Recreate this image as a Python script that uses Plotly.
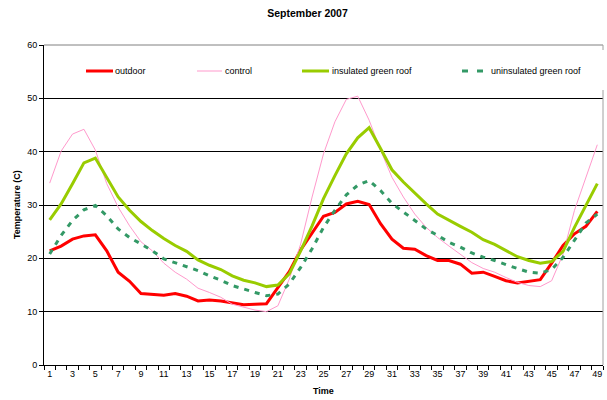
import plotly.graph_objects as go

time = list(range(1, 50))
outdoor = [21.4, 22.3, 23.6, 24.2, 24.4, 21.4, 17.4, 15.7, 13.4, 13.2, 13.1, 13.4, 12.9, 12.0, 12.2, 12.0, 11.6,
           11.3, 11.4, 11.5, 14.5, 17.5, 21.6, 24.8, 27.9, 28.6, 30.2, 30.7, 30.1, 26.5, 23.6, 21.9, 21.7, 20.5,
           19.6, 19.6, 18.9, 17.2, 17.4, 16.6, 15.8, 15.4, 15.7, 16.0, 19.1, 22.4, 24.6, 26.0, 28.8]
control = [34.1, 40.1, 43.3, 44.2, 40.3, 34.0, 29.6, 26.1, 23.1, 21.4, 19.1, 17.4, 16.1, 14.4, 13.6, 12.7, 11.4,
           10.8, 10.3, 10.0, 11.1, 16.1, 22.7, 31.5, 39.6, 45.6, 49.8, 50.4, 45.9, 40.3, 35.2, 31.5, 28.3, 25.8,
           23.9, 22.3, 20.8, 19.2, 18.1, 17.4, 16.4, 15.5, 14.9, 14.7, 15.8, 20.8, 29.0, 35.2, 41.3]
insulated = [27.2, 30.2, 34.0, 37.9, 38.8, 35.2, 31.5, 29.0, 26.9, 25.2, 23.7, 22.4, 21.3, 19.7, 18.7, 17.9, 16.7,
             15.9, 15.4, 14.7, 15.0, 17.1, 21.4, 26.1, 31.2, 35.5, 39.6, 42.6, 44.5, 40.6, 36.6, 34.3, 32.2, 30.2,
             28.3, 27.1, 26.0, 24.9, 23.5, 22.6, 21.4, 20.3, 19.6, 19.1, 19.4, 21.3, 25.8, 29.9, 34.0]
uninsulated = [20.8, 24.3, 27.1, 29.1, 29.9, 28.0, 25.5, 23.9, 22.7, 21.4, 19.9, 19.2, 18.5, 17.7, 16.7, 15.9, 14.9,
               14.2, 13.6, 13.0, 13.3, 15.2, 18.3, 21.8, 25.8, 29.0, 31.9, 33.7, 34.6, 32.7, 30.3, 28.7, 27.1, 25.5,
               24.3, 23.0, 22.1, 21.0, 20.2, 19.6, 18.8, 18.1, 17.4, 17.2, 17.9, 20.2, 23.3, 26.6, 28.3]
series_names = ["outdoor", "control", "insulated green roof", "uninsulated green roof"]
x_tick_labels = [str(v) for v in range(1, 50, 2)]

FONT = "Liberation Sans, Arial, sans-serif"
W, H = 607, 400
L, R, T, B = 44, 4, 45, 35

styles = [
    dict(color="#FF0000", width=3, dash="solid"),
    dict(color="#FF99CC", width=1, dash="solid"),
    dict(color="#99CC00", width=3, dash="solid"),
    dict(color="#339966", width=3, dash="5px,6px"),
]

fig = go.Figure()
for name, vals, st in zip(series_names, [outdoor, control, insulated, uninsulated], styles):
    fig.add_trace(go.Scatter(x=time, y=vals, mode="lines", name=name, line=st, showlegend=False,
                             hoverinfo="skip"))

pw = W - L - R
ph = H - T - B
def px2x(px):
    return (px - L) / pw
def py2y(py):
    return (H - B - py) / ph

shapes = []
annotations = []
leg_y = 71
legend_items = [
    (86, 113, 113),
    (197, 222, 223),
    (302, 329, 330),
    (462, 484, 489),
]
for (x0, x1, tx), name, st in zip(legend_items, series_names, styles):
    if st["dash"] != "solid":
        for a, b in [(x0, x0 + 6), (x0 + 15, x0 + 21)]:
            shapes.append(dict(type="line", xref="paper", yref="paper", x0=px2x(a), x1=px2x(b),
                               y0=py2y(leg_y), y1=py2y(leg_y), line=dict(color=st["color"], width=3)))
    else:
        shapes.append(dict(type="line", xref="paper", yref="paper", x0=px2x(x0), x1=px2x(x1),
                           y0=py2y(leg_y), y1=py2y(leg_y), line=dict(color=st["color"], width=st["width"])))
    annotations.append(dict(text=name, xref="paper", yref="paper", x=px2x(tx), y=py2y(leg_y),
                            xanchor="left", yanchor="middle", showarrow=False,
                            font=dict(family=FONT, size=9, color="#000000")))

annotations.append(dict(text="<b>Time</b>", xref="paper", yref="paper", x=px2x(323.5), y=py2y(391),
                        xanchor="center", yanchor="middle", showarrow=False,
                        font=dict(family=FONT, size=9, color="#000000")))
annotations.append(dict(text="<b>Temperature (C)</b>", xref="paper", yref="paper", x=px2x(17), y=py2y(205),
                        xanchor="center", yanchor="middle", showarrow=False, textangle=-90,
                        font=dict(family=FONT, size=9, color="#000000")))

shapes.append(dict(type="line", xref="paper", yref="paper", x0=0, x1=1, y0=1, y1=1,
                   line=dict(color="#808080", width=1)))
shapes.append(dict(type="line", xref="paper", yref="paper", x0=1, x1=1, y0=0, y1=py2y(90),
                   line=dict(color="#A0A0A0", width=1)))
shapes.append(dict(type="line", xref="paper", yref="paper", x0=1, x1=1, y0=py2y(50), y1=1,
                   line=dict(color="#A0A0A0", width=1)))

fig.update_layout(
    width=W, height=H,
    margin=dict(l=L, r=R, t=T, b=B, autoexpand=False),
    paper_bgcolor="white", plot_bgcolor="white",
    font=dict(family=FONT, size=9, color="#000000"),
    title=dict(text="<b>September 2007</b>", x=307.5 / W, xref="container", xanchor="center",
               y=1 - 13.5 / H, yanchor="middle", font=dict(family=FONT, size=10.5)),
    xaxis=dict(range=[0.5, 49.5], tickmode="array", tickvals=list(range(1, 50, 2)), ticktext=x_tick_labels,
               ticks="", showgrid=False, showline=True, linecolor="#000000", linewidth=1, zeroline=False,
               tickfont=dict(size=9), automargin=False,
               minor=dict(tickmode="linear", tick0=0.5, dtick=1, ticks="outside", ticklen=4,
                          tickcolor="#000000", showgrid=False)),
    yaxis=dict(range=[0, 60], dtick=10, tick0=0, ticks="outside", ticklen=4, tickcolor="#000000",
               showgrid=True, gridcolor="#000000", gridwidth=1, showline=True, linecolor="#000000",
               linewidth=1, zeroline=False, tickfont=dict(size=9), automargin=False),
    shapes=shapes,
    annotations=annotations,
)

fig.write_html("out.html", config={"displayModeBar": False},
               post_script="document.body.style.margin='0';document.body.style.overflow='hidden';")
